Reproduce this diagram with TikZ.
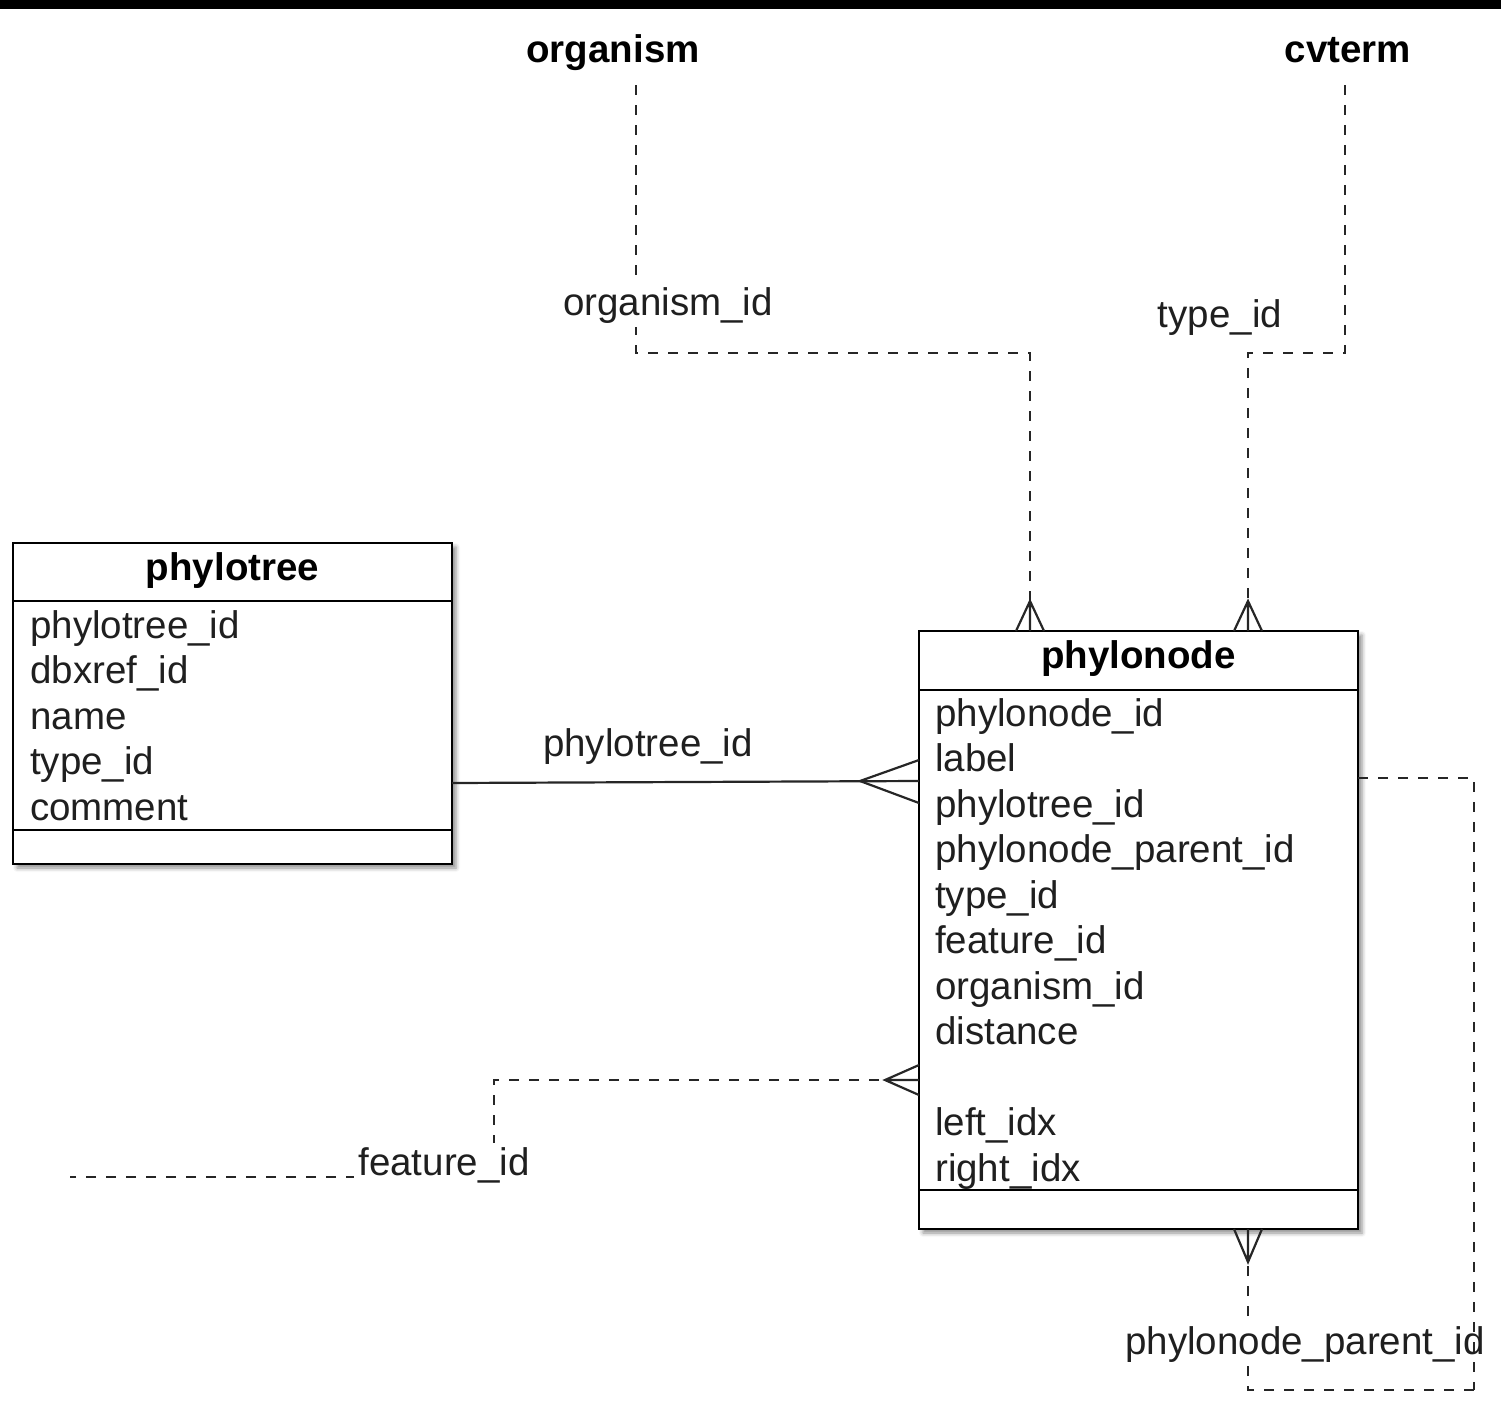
\documentclass[tikz,border=0pt]{standalone}
\usepackage{fontspec}
\setmainfont{Liberation Sans}
\usetikzlibrary{calc,shadows.blur}

\tikzset{
  table/.style={draw, line width=2.8pt, fill=white, minimum width=439pt, inner sep=0pt, outer sep=0pt,
    blur shadow={shadow xshift=4pt, shadow yshift=-4pt, shadow blur radius=4pt, shadow opacity=45}},
  title/.style={font=\fontsize{38.5}{45.5}\selectfont\bfseries, text depth=9pt, inner sep=2pt},
  rows/.style={font=\fontsize{38.5}{45.5}\selectfont, text=black!88, inner sep=0pt},
  fklabel/.style={font=\fontsize{38.5}{45.5}\selectfont, text=black!88, inner sep=4pt},
  fk/.style={line width=2.2pt, dash pattern=on 10pt off 10pt, black!85},
  rel/.style={line width=2.2pt, black!85},
  crow/.style={line width=2.2pt, black!85},
}

\begin{document}
\begin{tikzpicture}[x=1pt,y=-1pt]
\useasboundingbox (0,0) rectangle (1501,1405);
\fill[black] (0,0) rectangle (1501,9);

% referenced tables
\node[title, anchor=base] (org) at (613,63) {organism};
\node[title, anchor=base] (cvt) at (1348,63) {cvterm};

% phylotree
\node[table, minimum height=321pt] (pt) at (232.5,703.5) {};
\draw[line width=2.8pt] (pt.west |- 0,601) -- (pt.east |- 0,601);
\draw[line width=2.8pt] (pt.west |- 0,830) -- (pt.east |- 0,830);
\node[title, anchor=base, text depth=0pt] (ptname) at (232.5,580) {phylotree};
\node[rows, anchor=base west] (ptrows) at (30,638) {\begin{tabular}[t]{@{}l@{}}phylotree\_id\\dbxref\_id\\name\\type\_id\\comment\end{tabular}};

% phylonode
\node[table, minimum height=598pt] (pn) at (1138.5,930) {};
\draw[line width=2.8pt] (pn.west |- 0,690) -- (pn.east |- 0,690);
\draw[line width=2.8pt] (pn.west |- 0,1190) -- (pn.east |- 0,1190);
\node[title, anchor=base, text depth=0pt] (pnname) at (1138.5,668) {phylonode};
\node[rows, anchor=base west] (pnrows) at (935,726) {\begin{tabular}[t]{@{}l@{}}phylonode\_id\\label\\phylotree\_id\\phylonode\_parent\_id\\type\_id\\feature\_id\\organism\_id\\distance\\ \\left\_idx\\right\_idx\end{tabular}};

% organism_id
\draw[fk, shorten <=11pt] (org.south -| 636,0) |- (1030,353) -- (1030,0 |- pn.north);
\node[fklabel, fill=white, anchor=base] (orglbl) at (668,315) {organism\_id};
\draw[crow] (1016,0 |- pn.north) -- (1030,601) -- (1044,0 |- pn.north) (1030,601) -- (1030,0 |- pn.north);

% type_id
\draw[fk, shorten <=11pt] (cvt.south -| 1345,0) |- (1248,353) -- (1248,0 |- pn.north);
\node[fklabel, anchor=base] (typelbl) at (1220,327) {type\_id};
\draw[crow] (1234,0 |- pn.north) -- (1248,601) -- (1262,0 |- pn.north) (1248,601) -- (1248,0 |- pn.north);

% phylotree_id
\draw[rel] (pt.east |- 0,783) -- (pn.west |- 0,781);
\node[fklabel, anchor=base] (treelbl) at (648,756) {phylotree\_id};
\draw[crow] (pn.west |- 0,760) -- (860,781) -- (pn.west |- 0,803);

% feature_id
\coordinate (featend) at (70,1177);
\draw[fk] (pn.west |- 0,1080) -- (494,1080) -- (494,1177) -- (featend);
\node[fklabel, fill=white, anchor=base] (featlbl) at (444,1175) {feature\_id};
\draw[crow] (pn.west |- 0,1065) -- (885,1080) -- (pn.west |- 0,1095) (885,1080) -- (pn.west |- 0,1080);

% phylonode_parent_id
\coordinate (loopR) at (1474,778);
\coordinate (loopBR) at (1474,1390);
\coordinate (loopBL) at (1248,1390);
\draw[fk] (loopBR) -- (loopBL) -- (1248,0 |- pn.south);
\node[fklabel, fill=white, anchor=base] (parentlbl) at (1305,1354) {phylonode\_parent\_id};
\draw[fk] (pn.east |- loopR) -- (loopR) -- (loopBR);
\draw[crow] (1234,0 |- pn.south) -- (1248,1262) -- (1262,0 |- pn.south) (1248,1262) -- (1248,0 |- pn.south);
\end{tikzpicture}
\end{document}
